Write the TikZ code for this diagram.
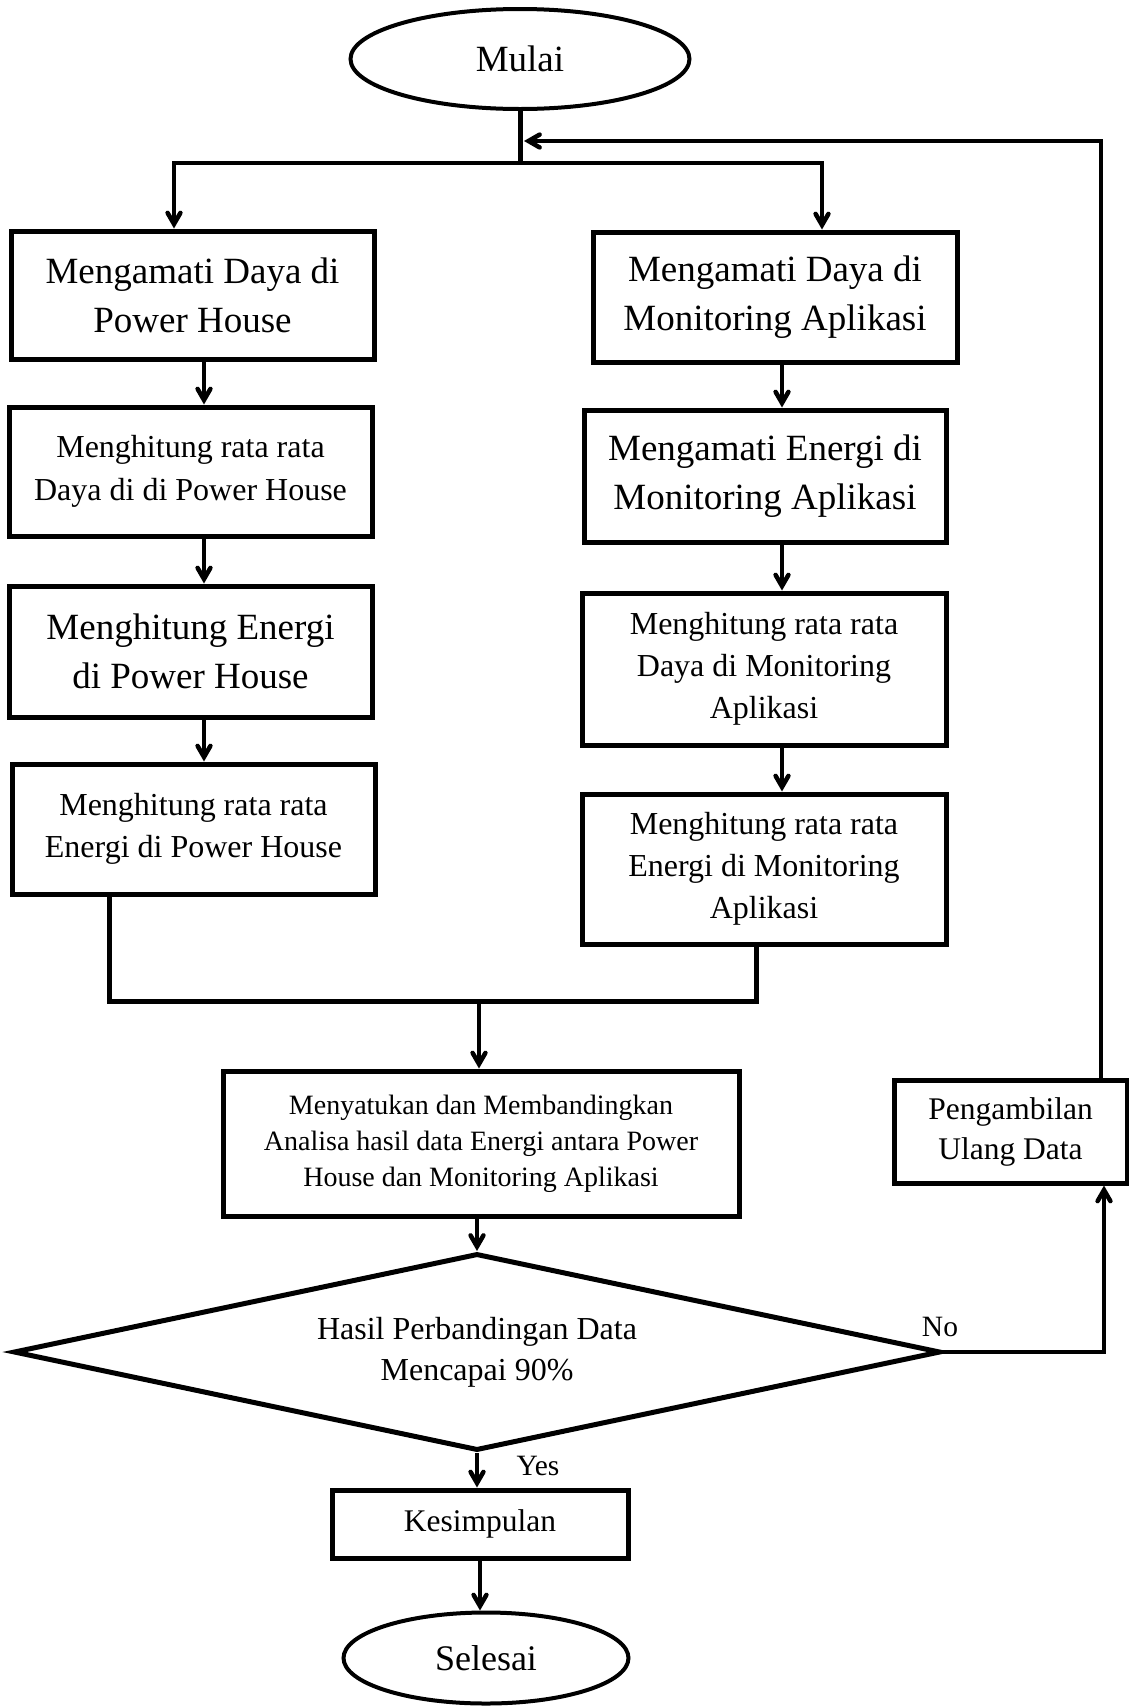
\documentclass[tikz,border=0pt]{standalone}
\usepackage{fontspec}
\setmainfont{Liberation Serif}
\usetikzlibrary{arrows}
\usetikzlibrary{shapes.geometric}

\begin{document}
\begin{tikzpicture}[x=1pt,y=-1pt,>=angle 60,line width=5pt]
	\tikzset{kotak/.style={draw,rectangle,align=center,inner sep=0pt}}
	\tikzset{oval/.style={draw,ellipse,line width=4pt,inner sep=0pt}}
	\tikzset{panah/.style={->,line width=4.5pt}}
	\tikzset{besar/.style={font=\fontsize{37}{49}\selectfont}}
	\tikzset{sedang/.style={font=\fontsize{32}{42}\selectfont}}
	\tikzset{kecil/.style={font=\fontsize{28}{36}\selectfont}}
	\useasboundingbox (0,0) rectangle (1129,1706);
	\node (mulai) at (520,59)[oval,besar,minimum width=339pt,minimum height=100pt] {Mulai};
	\node (k1) at (192.5,295)[kotak,besar,minimum width=363pt,minimum height=128pt] {Mengamati Daya di\\Power House};
	\node (k2) at (190.5,471.5)[kotak,minimum width=363pt,minimum height=129pt,font=\fontsize{32}{43}\selectfont] {Menghitung rata rata\\Daya di di Power House};
	\node (k3) at (190.5,651.5)[kotak,besar,minimum width=363pt,minimum height=131pt] {Menghitung Energi\\di Power House};
	\node (k4) at (193.5,829)[kotak,sedang,minimum width=363pt,minimum height=130pt] {Menghitung rata rata\\Energi di Power House};
	\node (m1) at (775,297)[kotak,besar,minimum width=364pt,minimum height=130pt] {Mengamati Daya di\\Monitoring Aplikasi};
	\node (m2) at (765,476)[kotak,besar,minimum width=362pt,minimum height=132pt] {Mengamati Energi di\\Monitoring Aplikasi};
	\node (m3) at (764,669)[kotak,sedang,minimum width=364pt,minimum height=152pt] {Menghitung rata rata\\Daya di Monitoring\\Aplikasi};
	\node (m4) at (764,869)[kotak,sedang,minimum width=364pt,minimum height=150pt] {Menghitung rata rata\\Energi di Monitoring\\Aplikasi};
	\node (analisa) at (481,1143.5)[kotak,kecil,minimum width=516pt,minimum height=145pt] {Menyatukan dan Membandingkan\\Analisa hasil data Energi antara Power\\House dan Monitoring Aplikasi};
	\node (cek) at (477,1352)[draw,diamond,aspect=4.7,align=center,inner sep=0pt,minimum width=927pt,minimum height=197pt,font=\fontsize{32}{41}\selectfont] {Hasil Perbandingan Data\\Mencapai 90\%};
	\node (ulang) at (1010.5,1131.5)[kotak,minimum width=233pt,minimum height=103pt,font=\fontsize{31.5}{40}\selectfont] {Pengambilan\\Ulang Data};
	\node (kesimpulan) at (480,1524)[kotak,minimum width=296pt,minimum height=68pt,font=\fontsize{31.5}{40}\selectfont] {Kesimpulan};
	\node (selesai) at (486,1658)[oval,minimum width=285pt,minimum height=91pt,font=\fontsize{36}{46}\selectfont] {Selesai};
	\node (no) at (940,1327)[font=\fontsize{29.5}{36}\selectfont] {No};
	\node (yes) at (538,1466)[font=\fontsize{29.5}{36}\selectfont] {Yes};
	\coordinate (cabang) at (520,163);
	\coordinate (kiri) at (174,163);
	\coordinate (kanan) at (822,163);
	\coordinate (jalurkiri) at (204,0);
	\coordinate (jalurkanan) at (782,0);
	\coordinate (gkiri) at (109,1001);
	\coordinate (gkanan) at (756,1001);
	\coordinate (gabung) at (479,1001);
	\coordinate (belok) at (1104,1352);
	\coordinate (balik) at (1101,141);
	\coordinate (ujung) at (524,141);
	\draw (mulai.south) -- (cabang);
	\draw[panah] (cabang) -- (kiri) -- (kiri |- k1.north);
	\draw[panah] (cabang) -- (kanan) -- (kanan |- m1.north);
	\draw[panah] (k1.south -| jalurkiri) -- (k2.north -| jalurkiri);
	\draw[panah] (k2.south -| jalurkiri) -- (k3.north -| jalurkiri);
	\draw[panah] (k3.south -| jalurkiri) -- (k4.north -| jalurkiri);
	\draw[panah] (m1.south -| jalurkanan) -- (m2.north -| jalurkanan);
	\draw[panah] (m2.south -| jalurkanan) -- (m3.north -| jalurkanan);
	\draw[panah] (m3.south -| jalurkanan) -- (m4.north -| jalurkanan);
	\draw (k4.south -| gkiri) -- (gkiri) -- (gkanan) -- (m4.south -| gkanan);
	\draw[panah] (gabung) -- (analisa.north -| gabung);
	\draw[panah] (analisa.south -| cek.north) -- (cek.north);
	\draw[panah] (cek.east) -- (belok) -- (belok |- ulang.south);
	\draw[panah] (ulang.north -| balik) -- (balik) -- (ujung);
	\draw[panah] (cek.south) -- (kesimpulan.north -| cek.south);
	\draw[panah] (kesimpulan.south) -- (selesai.north -| kesimpulan.south);
\end{tikzpicture}
\end{document}
